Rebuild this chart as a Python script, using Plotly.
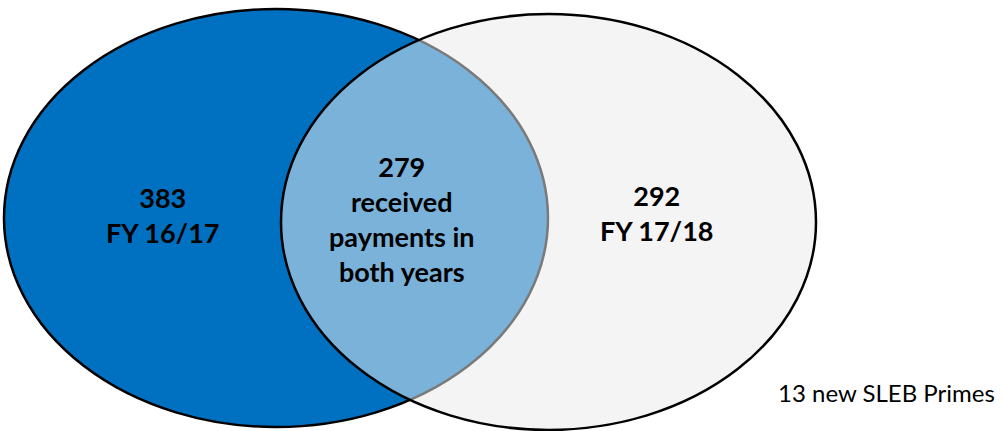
#two-circle venn: SLEB primes paid in FY 16/17 vs FY 17/18
import plotly.graph_objects as go

#counts shown in each region
region_counts = [383, 279, 292]
region_labels = ['FY 16/17', 'received<br>payments in<br>both years', 'FY 17/18']
new_primes = 13
note_label = 'new SLEB Primes'

#ellipse boxes in page pixels (x0, y0, x1, y1)
left_box = (4, 9, 548, 427)
right_box = (281, 14, 816, 430)

fig = go.Figure()

#solid base for the right set so the overlay keeps its light grey
fig.add_shape(type='circle', xref='x', yref='y',
              x0=right_box[0], y0=right_box[1], x1=right_box[2], y1=right_box[3],
              fillcolor='#F4F4F4', line=dict(width=0), layer='below')
fig.add_shape(type='circle', xref='x', yref='y',
              x0=left_box[0], y0=left_box[1], x1=left_box[2], y1=left_box[3],
              fillcolor='#0070C0', line=dict(color='black', width=2.5), layer='below')
#half transparent right set on top gives the light blue overlap and grey arc
fig.add_shape(type='circle', xref='x', yref='y',
              x0=right_box[0], y0=right_box[1], x1=right_box[2], y1=right_box[3],
              fillcolor='rgba(244,244,244,0.5)', line=dict(color='black', width=2.5), layer='below')

label_x = [162, 402, 656]
label_y = [214.5, 219, 212.5]
for cnt, lab, x, y in zip(region_counts, region_labels, label_x, label_y):
    fig.add_annotation(x=x, y=y, xref='x', yref='y', text='<b>%d<br>%s</b>' % (cnt, lab),
                       showarrow=False, align='center', xanchor='center', yanchor='middle',
                       font=dict(family='Lato', size=27, color='black'))

fig.add_annotation(x=886, y=392, xref='x', yref='y', text='%d %s' % (new_primes, note_label),
                   showarrow=False, xanchor='center', yanchor='middle',
                   font=dict(family='Lato', size=24, color='black'))

fig.update_xaxes(range=[0, 1002], visible=False, fixedrange=True)
fig.update_yaxes(range=[431, 0], visible=False, fixedrange=True)
fig.update_layout(width=1002, height=431, margin=dict(l=0, r=0, t=0, b=0),
                  paper_bgcolor='white', plot_bgcolor='white', showlegend=False)

#drop the default body margin so the figure sits at the page corner
fig.write_html('out.html', config={'displayModeBar': False},
               post_script="document.body.style.margin='0px';")
